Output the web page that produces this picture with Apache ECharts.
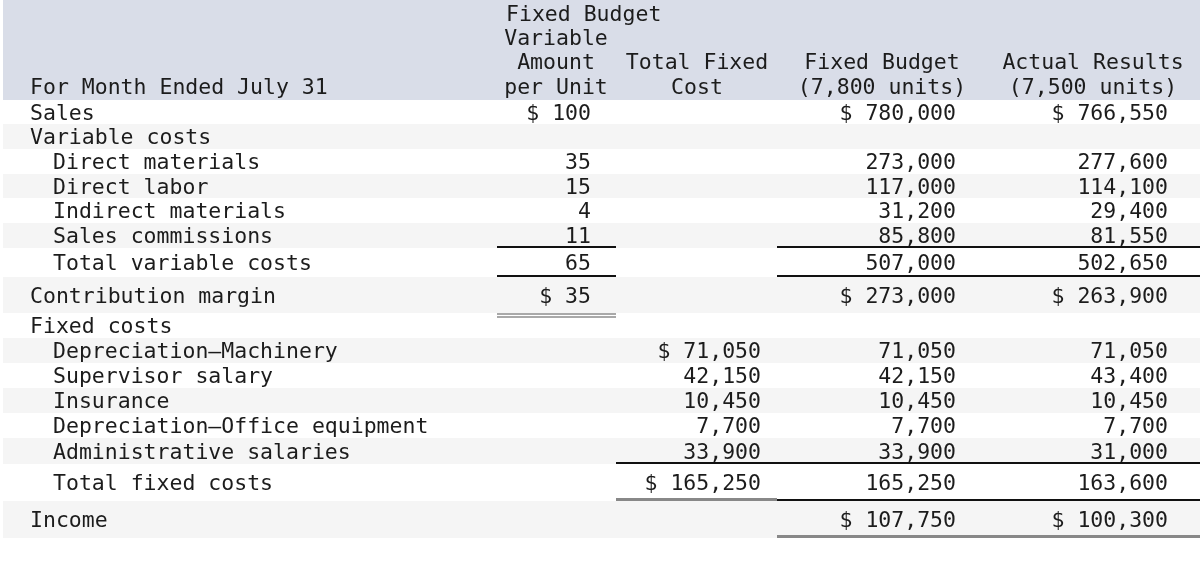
<!DOCTYPE html>
<html>
<head>
<meta charset="utf-8">
<script src="https://cdn.jsdelivr.net/npm/echarts@6/dist/echarts.min.js"></script>
<style>
  html, body { margin: 0; padding: 0; background: #fff; }
  #chart { width: 1200px; height: 565px; }
</style>
</head>
<body>
<div id="chart"></div>
<script>
  // table data
  const rowLabels = [
    'Sales', 'Variable costs', 'Direct materials', 'Direct labor', 'Indirect materials',
    'Sales commissions', 'Total variable costs', 'Contribution margin', 'Fixed costs',
    'Depreciation\u2014Machinery', 'Supervisor salary', 'Insurance',
    'Depreciation\u2014Office equipment', 'Administrative salaries', 'Total fixed costs', 'Income'
  ];
  const rowIndent = [0, 0, 1, 1, 1, 1, 1, 0, 0, 1, 1, 1, 1, 1, 1, 0];

  const perUnit     = [100, null, 35, 15, 4, 11, 65, 35, null, null, null, null, null, null, null, null];
  const totalFixed  = [null, null, null, null, null, null, null, null, null, 71050, 42150, 10450, 7700, 33900, 165250, null];
  const fixedBudget = [780000, null, 273000, 117000, 31200, 85800, 507000, 273000, null, 71050, 42150, 10450, 7700, 33900, 165250, 107750];
  const actual      = [766550, null, 277600, 114100, 29400, 81550, 502650, 263900, null, 71050, 43400, 10450, 7700, 31000, 163600, 100300];

  // rows that carry a "$ " sign, per column
  const dollarRows = [[0, 7], [9, 14], [0, 7, 15], [0, 7, 15]];

  const headerTitle = 'Fixed Budget';
  const headerCols = [
    ['Variable', 'Amount', 'per Unit'],
    ['', 'Total Fixed', 'Cost'],
    ['', 'Fixed Budget', '(7,800 units)'],
    ['', 'Actual Results', '(7,500 units)']
  ];
  const headerLabel = 'For Month Ended July 31';

  // underline rules: row, value columns, kind
  const underlines = [
    { row: 5, cols: [0], kind: 'single' },
    { row: 5, cols: [2, 3], kind: 'single' },
    { row: 6, cols: [0], kind: 'single' },
    { row: 6, cols: [2, 3], kind: 'single' },
    { row: 7, cols: [0], kind: 'double' },
    { row: 13, cols: [1, 2, 3], kind: 'single' },
    { row: 14, cols: [1], kind: 'thick' },
    { row: 14, cols: [2, 3], kind: 'single' },
    { row: 15, cols: [2, 3], kind: 'thick' }
  ];

  // layout
  const FONT = '21.5px "DejaVu Sans Mono", monospace';
  const TEXT = '#1c1c1c';
  const TEXT_DY = 2;
  const headerHeight = 100;
  const rowHeights = [24, 25, 25, 24, 25, 25, 29, 36, 25, 25, 25, 25, 25, 26, 37, 37];
  const colEdges = [497, 616, 777, 977, 1200];
  const colTextRight = [591, 761, 956, 1168];
  const headerCenters = [556, 697, 882, 1093];
  const headerLineY = [15, 39, 63, 88];
  const indentX = [30, 53];

  const rowTops = [];
  let acc = headerHeight;
  rowHeights.forEach(h => { rowTops.push(acc); acc += h; });

  const columns = [perUnit, totalFixed, fixedBudget, actual];

  function fmt(v, dollar) {
    if (v == null) return '';
    const s = String(v).replace(/\B(?=(\d{3})+(?!\d))/g, ',');
    return dollar ? '$ ' + s : s;
  }

  const chart = echarts.init(document.getElementById('chart'), null, { renderer: 'canvas' });

  const headerGraphics = [
    { type: 'rect', shape: { x: 3, y: 0, width: 1197, height: headerHeight }, style: { fill: '#d9dde8' } },
    { type: 'text', style: { text: headerTitle, x: 506, y: headerLineY[0], font: FONT, fill: TEXT, verticalAlign: 'middle' } },
    { type: 'text', style: { text: headerLabel, x: indentX[0], y: headerLineY[3], font: FONT, fill: TEXT, verticalAlign: 'middle' } }
  ];
  headerCols.forEach((lines, c) => {
    lines.forEach((t, i) => {
      if (!t) return;
      headerGraphics.push({
        type: 'text',
        style: { text: t, x: headerCenters[c], y: headerLineY[i + 1], font: FONT, fill: TEXT, align: 'center', verticalAlign: 'middle' }
      });
    });
  });

  const rowData = rowLabels.map((_, i) => [i]);

  chart.setOption({
    animation: false,
    grid: { left: 0, right: 0, top: 0, bottom: 0 },
    xAxis: { type: 'value', min: 0, max: 1200, show: false },
    yAxis: { type: 'value', min: 0, max: 565, inverse: true, show: false },
    graphic: headerGraphics,
    series: [
      {
        // row bands
        type: 'custom',
        silent: true,
        data: rowData,
        renderItem(params, api) {
          const r = api.value(0);
          if (r % 2 === 0) return { type: 'group', children: [] };
          const p0 = api.coord([3, rowTops[r]]);
          const p1 = api.coord([1200, rowTops[r] + rowHeights[r]]);
          return {
            type: 'rect',
            shape: { x: p0[0], y: p0[1], width: p1[0] - p0[0], height: p1[1] - p0[1] },
            style: { fill: '#f5f5f5' }
          };
        }
      },
      {
        // labels, values, rules
        type: 'custom',
        silent: true,
        data: rowData,
        renderItem(params, api) {
          const r = api.value(0);
          const top = rowTops[r];
          const bottom = top + rowHeights[r];
          const cy = api.coord([0, top + rowHeights[r] / 2 + TEXT_DY])[1];
          const children = [{
            type: 'text',
            style: { text: rowLabels[r], x: api.coord([indentX[rowIndent[r]], 0])[0], y: cy, font: FONT, fill: TEXT, verticalAlign: 'middle' }
          }];
          columns.forEach((col, c) => {
            const t = fmt(col[r], dollarRows[c].indexOf(r) >= 0);
            if (!t) return;
            children.push({
              type: 'text',
              style: { text: t, x: api.coord([colTextRight[c], 0])[0], y: cy, font: FONT, fill: TEXT, align: 'right', verticalAlign: 'middle' }
            });
          });
          underlines.filter(u => u.row === r).forEach(u => {
            const xa = colEdges[u.cols[0]];
            const xb = colEdges[u.cols[u.cols.length - 1] + 1];
            const line = (y, color, w) => {
              const a = api.coord([xa, y]);
              const b = api.coord([xb, y]);
              children.push({ type: 'line', shape: { x1: a[0], y1: a[1], x2: b[0], y2: b[1] }, style: { stroke: color, lineWidth: w } });
            };
            if (u.kind === 'single') line(bottom - 1, '#111', 2);
            else if (u.kind === 'double') { line(bottom + 1, '#555', 1.2); line(bottom + 4, '#555', 1.2); }
            else line(bottom - 1.5, '#888', 3);
          });
          return { type: 'group', children };
        }
      }
    ]
  });
</script>
</body>
</html>
